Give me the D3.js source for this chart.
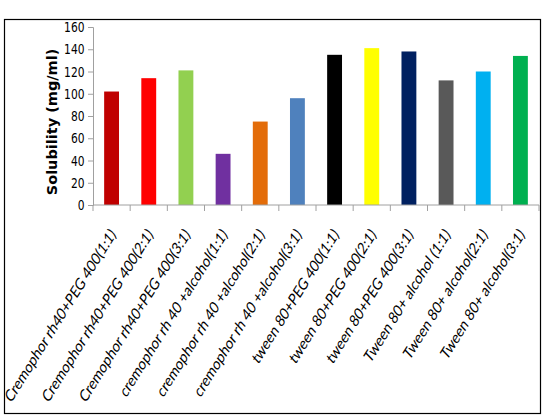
<!DOCTYPE html>
<html>
<head>
<meta charset="utf-8">
<title>Solubility</title>
<script src="https://d3js.org/d3.v7.min.js"></script>
<style>
  body { margin: 0; background: #ffffff; }
</style>
</head>
<body>
<script>
'use strict'
// data
const categories = [
  'Cremophor rh40+PEG 400(1:1)',
  'Cremophor rh40+PEG 400(2:1)',
  'Cremophor rh40+PEG 400(3:1)',
  'cremophor rh 40 +alcohol(1:1)',
  'cremophor rh 40 +alcohol(2:1)',
  'cremophor rh 40 +alcohol(3:1)',
  'tween 80+PEG 400(1:1)',
  'tween 80+PEG 400(2:1)',
  'tween 80+PEG 400(3:1)',
  'Tween 80+ alcohol (1:1)',
  'Tween 80+ alcohol(2:1)',
  'Tween 80+ alcohol(3:1)'
]
const values = [102, 114, 121, 46, 75, 96, 135, 141, 138, 112, 120, 134]
const colors = ['#c00000', '#ff0000', '#92d050', '#7030a0', '#e36c09', '#4f81bd',
  '#000000', '#ffff00', '#002060', '#595959', '#00b0f0', '#00b050']
const yTicks = [0, 20, 40, 60, 80, 100, 120, 140, 160]
const yTitle = 'Solubility (mg/ml)'

const W = 549, H = 416
const plot = {left: 93, right: 539, top: 27, bottom: 205}

const svg = d3.select('body').append('svg')
  .attr('width', W)
  .attr('height', H)

svg.append('rect')
  .attr('x', 4.5).attr('y', 19.5)
  .attr('width', 536).attr('height', 394)
  .attr('fill', '#ffffff')
  .attr('stroke', '#000000')
  .attr('stroke-width', 1.2)

const x = d3.scaleBand()
  .domain(categories)
  .range([plot.left, plot.right])
  .paddingInner(0.6)
  .paddingOuter(0.3)

const y = d3.scaleLinear()
  .domain([0, 160])
  .range([plot.bottom, plot.top])

// bars
svg.append('g').selectAll('rect')
  .data(values)
  .join('rect')
  .attr('x', (d, i) => x(categories[i]))
  .attr('y', d => y(d))
  .attr('width', x.bandwidth())
  .attr('height', d => y(0) - y(d))
  .attr('fill', (d, i) => colors[i])

// y axis
const yAxis = svg.append('g')
  .attr('transform', `translate(${plot.left},0)`)
  .call(d3.axisLeft(y).tickValues(yTicks).tickSize(5).tickPadding(5))
yAxis.selectAll('path, line').attr('stroke', '#a0a0a0')
yAxis.selectAll('text')
  .attr('font-family', '"Liberation Sans Narrow", "DejaVu Sans Condensed", sans-serif')
  .attr('font-size', 14)
  .attr('transform', 'scale(0.85,1.05)')
  .attr('fill', '#000000')

// x axis: ticks at band edges
const edges = d3.range(categories.length + 1).map(i => plot.left + i * (plot.right - plot.left) / categories.length)
const xg = svg.append('g')
xg.append('line')
  .attr('x1', plot.left).attr('x2', plot.right)
  .attr('y1', y(0)).attr('y2', y(0))
  .attr('stroke', '#a0a0a0')
xg.selectAll('line.tick')
  .data(edges)
  .join('line')
  .attr('class', 'tick')
  .attr('x1', d => d).attr('x2', d => d)
  .attr('y1', y(0)).attr('y2', y(0) + 6)
  .attr('stroke', '#a0a0a0')

// labels slanted by hand, no italic face installed
xg.selectAll('text')
  .data(categories)
  .join('text')
  .attr('transform', d => `translate(${x(d) + x.bandwidth() / 2 + 5},${y(0) + 30}) rotate(-58) skewX(-14)`)
  .attr('text-anchor', 'end')
  .attr('font-family', 'Lato, "Open Sans", sans-serif')
  .attr('font-size', 14.5)
  .attr('fill', '#000000')
  .text(d => d)

// y title
svg.append('text')
  .attr('transform', `translate(57,${(plot.top + plot.bottom) / 2 + 6}) rotate(-90)`)
  .attr('text-anchor', 'middle')
  .attr('font-family', '"DejaVu Sans", Verdana, sans-serif')
  .attr('font-weight', 'bold')
  .attr('font-size', 14.5)
  .attr('fill', '#000000')
  .text(yTitle)
</script>
</body>
</html>
